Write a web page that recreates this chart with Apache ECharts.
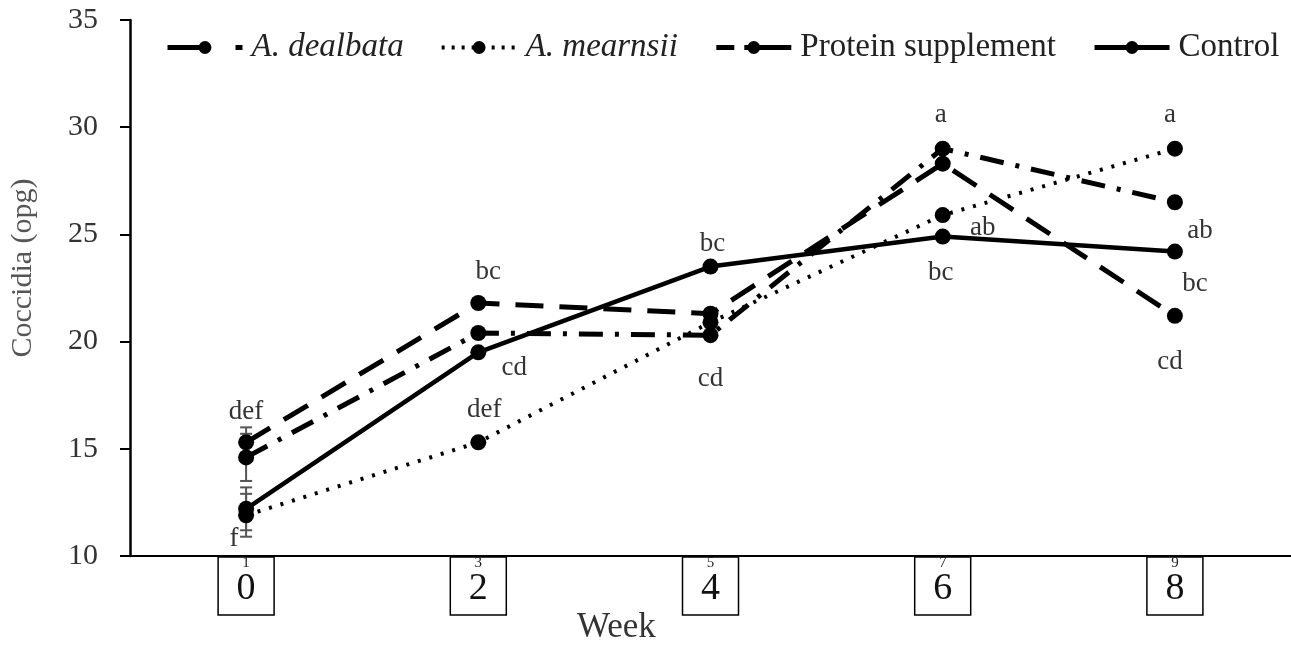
<!DOCTYPE html>
<html>
<head>
<meta charset="utf-8">
<script src="https://cdn.jsdelivr.net/npm/echarts@6/dist/echarts.min.js"></script>
<style>
  html, body { margin: 0; padding: 0; background: #fff; }
  #chart { width: 1291px; height: 646px; }
</style>
</head>
<body>
<div id="chart"></div>
<script>
// data
var weeks = ['0', '2', '4', '6', '8']
var hiddenTicks = ['1', '3', '5', '7', '9']   // fragments peeking over the boxes
var dealbata = [14.6, 20.4, 20.3, 29.0, 26.5]
var mearnsii = [11.9, 15.3, 20.9, 25.9, 29.0]
var protein = [15.3, 21.8, 21.3, 28.3, 21.2]
var control = [12.2, 19.5, 23.5, 24.9, 24.2]
// standard errors (only visible at week 0)
var errDealbata = [1.1, 0, 0, 0, 0]
var errMearnsii = [1.0, 0, 0, 0, 0]
var errProtein = [0.7, 0, 0, 0, 0]
var errControl = [1.0, 0, 0, 0, 0]
// significance letters
var lettersDealbata = ['', '', 'cd', 'a', 'ab']
var lettersMearnsii = ['', 'def', '', 'ab', 'a']
var lettersProtein = ['def', 'bc', '', '', 'cd']
var lettersControl = ['f', 'cd', 'bc', 'bc', 'bc']
var yTicks = [10, 15, 20, 25, 30, 35]

var serif = '"Liberation Serif", "DejaVu Serif", serif'

// label offsets in px (style only)
var offsets = {
  dealbata: [null, null, [0, 44], [-2, -34], [25, 29]],
  mearnsii: [null, [6, -32], null, [40, 13], [-5, -34]],
  protein: [[0, -30], [10, -31], null, null, [-5, 46]],
  control: [[-12, 30], [36, 16], [2, -23], [-2, 36], [20, 32]]
}

function points(values, letters, offs) {
  return values.map(function (v, i) {
    var item = { value: v }
    if (letters[i]) {
      item.label = {
        show: true,
        formatter: letters[i],
        position: 'inside',
        offset: offs[i],
        color: '#333',
        fontFamily: serif,
        fontSize: 27
      }
    }
    return item
  })
}

function errItems(values, errs) {
  var out = []
  values.forEach(function (v, i) {
    if (errs[i] > 0) out.push([i, v - errs[i], v + errs[i]])
  })
  return out
}

var errData = []
  .concat(errItems(dealbata, errDealbata))
  .concat(errItems(mearnsii, errMearnsii))
  .concat(errItems(protein, errProtein))
  .concat(errItems(control, errControl))

function lineSeries(name, values, letters, offs, type, width) {
  return {
    name: name,
    type: 'line',
    data: points(values, letters, offs),
    symbol: 'circle',
    symbolSize: 16,
    color: '#000',
    itemStyle: { color: '#000' },
    lineStyle: { color: '#000', width: width, type: type },
    label: { show: false },
    emphasis: { disabled: true },
    z: 3
  }
}

var myChart = echarts.init(document.getElementById('chart'))
var option = {
  backgroundColor: '#fff',
  animation: false,
  title: {
    text: 'Week',
    left: 572,
    top: 605,
    textStyle: { fontFamily: serif, fontSize: 35, fontWeight: 'normal', color: '#333' }
  },
  legend: {
    top: 26,
    left: 160,
    itemWidth: 75,
    itemHeight: 16,
    itemGap: 36,
    lineStyle: { width: 5 },
    textStyle: { fontFamily: serif, fontSize: 33, color: '#222', padding: [0, 0, 0, 4] },
    data: [
      { name: 'A. dealbata', textStyle: { fontStyle: 'italic' }, lineStyle: { type: [32, 36, 7, 20] } },
      { name: 'A. mearnsii', textStyle: { fontStyle: 'italic' }, lineStyle: { type: [3, 7], width: 4 } },
      { name: 'Protein supplement', lineStyle: { type: [18, 10, 50, 4] } },
      { name: 'Control' }
    ]
  },
  grid: { left: 128, right: 0, top: 20, bottom: 90 },
  xAxis: {
    type: 'category',
    data: weeks,
    boundaryGap: true,
    axisLine: { lineStyle: { color: '#000', width: 2 } },
    axisTick: { show: false },
    axisLabel: {
      margin: 1,
      width: 56,
      height: 58,
      align: 'center',
      verticalAlign: 'top',
      borderColor: '#000',
      borderWidth: 1.5,
      formatter: function (v, i) { return '{s|' + hiddenTicks[i] + '}\n{d|' + v + '}' },
      rich: {
        s: { fontFamily: serif, fontSize: 15, lineHeight: 12, color: '#222', align: 'center' },
        d: { fontFamily: serif, fontSize: 38, lineHeight: 40, color: '#111', align: 'center' }
      }
    }
  },
  yAxis: {
    type: 'value',
    min: yTicks[0],
    max: yTicks[yTicks.length - 1],
    interval: 5,
    name: 'Coccidia (opg)',
    nameLocation: 'middle',
    nameGap: 92,
    nameRotate: 90,
    nameTextStyle: { fontFamily: serif, fontSize: 30, color: '#555', padding: [0, 0, 0, 40] },
    axisLine: { show: true, lineStyle: { color: '#000', width: 2.5 } },
    axisTick: { show: true, length: 10, lineStyle: { color: '#000', width: 2 } },
    axisLabel: { margin: 32, fontFamily: serif, fontSize: 30, color: '#333' },
    splitLine: { show: false }
  },
  series: [
    {
      type: 'custom',
      name: 'err',
      data: errData,
      z: 2,
      renderItem: function (params, api) {
        var x = api.coord([api.value(0), api.value(1)])[0]
        var lo = api.coord([api.value(0), api.value(1)])[1]
        var hi = api.coord([api.value(0), api.value(2)])[1]
        var cap = 6
        var st = { stroke: '#555', lineWidth: 2 }
        return {
          type: 'group',
          children: [
            { type: 'line', shape: { x1: x, y1: lo, x2: x, y2: hi }, style: st },
            { type: 'line', shape: { x1: x - cap, y1: lo, x2: x + cap, y2: lo }, style: st },
            { type: 'line', shape: { x1: x - cap, y1: hi, x2: x + cap, y2: hi }, style: st }
          ]
        }
      }
    },
    lineSeries('A. dealbata', dealbata, lettersDealbata, offsets.dealbata, [24, 12, 4, 12], 5),
    lineSeries('A. mearnsii', mearnsii, lettersMearnsii, offsets.mearnsii, [3, 9], 4),
    lineSeries('Protein supplement', protein, lettersProtein, offsets.protein, [28, 16], 5),
    lineSeries('Control', control, lettersControl, offsets.control, 'solid', 4.5)
  ]
}
myChart.setOption(option)
</script>
</body>
</html>
